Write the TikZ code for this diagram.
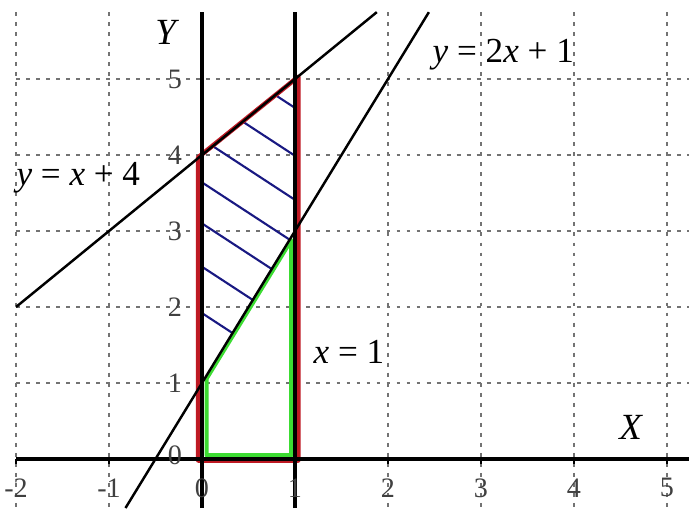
\documentclass[tikz,border=0pt]{standalone}
\usepackage{fontspec}
\setmainfont{Liberation Serif}
\usetikzlibrary{positioning}

\definecolor{bordred}{RGB}{190,25,35}
\definecolor{zonegreen}{RGB}{60,220,50}
\definecolor{hatchblue}{RGB}{25,25,130}

\begin{document}
\begin{tikzpicture}[x=1.86cm, y=1.52cm,
    gridline/.style={black!55, line width=1.3pt, dash pattern=on 2.2pt off 3.5pt},
    axisline/.style={black, line width=2.1pt},
    graphline/.style={black, line width=1.4pt},
    ticklabel/.style={font=\fontsize{16}{18}\selectfont, text=black!75},
    eqlabel/.style={font=\fontsize{20}{24}\selectfont},
    axislabel/.style={font=\fontsize{21}{24}\selectfont\itshape},
]
\useasboundingbox (-2.172,-0.645) rectangle (5.237,6.04);

% corners of the region (drawn a little off the lines)
\coordinate (O) at (-0.04,-0.02);
\coordinate (B) at (-0.04,3.97);
\coordinate (C) at (1.035,5.03);
\coordinate (E) at (1.035,-0.02);
\coordinate (A) at (0.05,1.06);
\coordinate (D) at (0.96,2.88);
\coordinate (G) at (0.96,0.05);
\coordinate (H) at (0.05,0.05);

% dotted grid
\foreach \gx in {-2,-1,2,3,4,5}
  \draw[gridline] (\gx,5.88) -- (\gx,-0.645);
\foreach \gy in {1,...,5}
  \draw[gridline] (-2,\gy) -- (5.237,\gy);

% hatching
\begin{scope}
  \clip (0,1) -- (0,4) -- (1,5) -- (1,3) -- cycle;
  \foreach \c in {5.42,4.79,4.21,3.64,3.10,2.53,1.92}
    \draw[hatchblue, line width=1.2pt] (0,\c) -- ++(1.2,-0.96);
\end{scope}

% borders
\draw[bordred, line width=2.6pt, line join=round] (O) -- (B) -- (C) -- (E) -- cycle;
\draw[zonegreen, line width=2.4pt, line join=round] (H) -- (A) -- (D) -- (G) -- cycle;

% axes and lines
\draw[axisline] (-2,0) -- (5.237,0);
\draw[axisline] (0,-0.645) -- (0,5.88);
\draw[axisline] (1,-0.645) -- (1,5.88);
\draw[graphline] (-2,2) -- (1.88,5.88);
\draw[graphline] (-0.8225,-0.645) -- (2.44,5.88);
\foreach \t in {-2,-1,2,3,4,5}
  \draw[black, line width=1.4pt] (\t,0) -- (\t,-0.07);

% labels
\node[eqlabel] (eqUp) at (3.24,5.32) {\textit{y} = 2\textit{x} + 1};
\node[eqlabel] (eqLeft) at (-1.33,3.70) {\textit{y} = \textit{x} + 4};
\node[eqlabel] (eqRight) at (1.58,1.41) {\textit{x} = 1};
\node[axislabel] (labY) at (-0.39,5.61) {Y};
\node[axislabel] (labX) at (4.61,0.42) {X};
\foreach \t in {1,...,5}
  \node[ticklabel] (ty\t) at (-0.29,\t) {\t};
\node[ticklabel] (ty0) at (-0.29,0.05) {0};
\foreach \t in {-2,-1,0,1,2,3,4,5}
  \node[ticklabel] (tx\t) at (\t,-0.38) {\t};
\end{tikzpicture}
\end{document}
